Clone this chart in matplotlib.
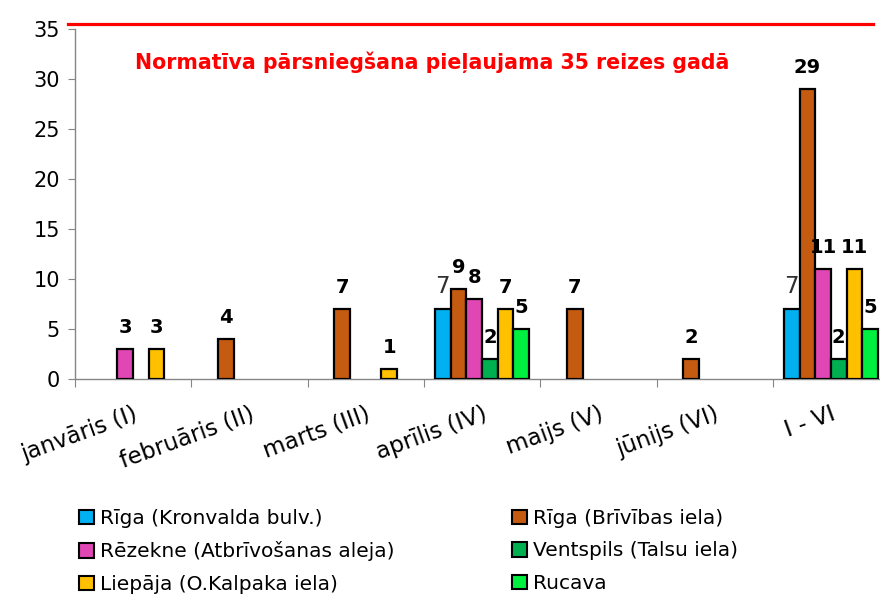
import matplotlib
matplotlib.use("Agg")
import matplotlib.pyplot as plt
import numpy as np
from matplotlib.patches import Patch

plt.rcParams['font.family'] = ['DejaVu Sans']

categories = ["janvāris (I)", "februāris (II)", "marts (III)", "aprīlis (IV)",
              "maijs (V)", "jūnijs (VI)", "I - VI"]
series_names = ["Rīga (Kronvalda bulv.)", "Rīga (Brīvības iela)",
                "Rēzekne (Atbrīvošanas aleja)", "Ventspils (Talsu iela)",
                "Liepāja (O.Kalpaka iela)", "Rucava"]
riga_kronvalda = [0, 0, 0, 7, 0, 0, 7]
riga_brivibas = [0, 4, 7, 9, 7, 2, 29]
rezekne = [3, 0, 0, 8, 0, 0, 11]
ventspils = [0, 0, 0, 2, 0, 0, 2]
liepaja = [3, 0, 1, 7, 0, 0, 11]
rucava = [0, 0, 0, 5, 0, 0, 5]
series_values = [riga_kronvalda, riga_brivibas, rezekne, ventspils, liepaja, rucava]
colors = ["#00B0F0", "#C55A11", "#E046B4", "#00B050", "#FFC000", "#00F040"]
limit_value = 35
limit_text = "Normatīva pārsniegšana pieļaujama 35 reizes gadā"
y_ticks = [0, 5, 10, 15, 20, 25, 30, 35]

fig = plt.figure(figsize=(8.8, 5.94), dpi=100)
ax = fig.add_axes([75/880, 1-379/594, 7*116.3/880, 350/594])

n = len(series_values)
w = 94/116.3/n
centers = np.arange(len(categories)) + 0.5
for j, (vals, col, name) in enumerate(zip(series_values, colors, series_names)):
    vals = np.array(vals, dtype=float)
    xs = centers + (j - (n-1)/2) * w
    mask = vals > 0
    ax.bar(xs[mask], vals[mask], width=w, color=col, edgecolor='black',
           linewidth=1.6, zorder=3)
    for x, v in zip(xs[mask], vals[mask]):
        if j == 0:
            ax.annotate(f"{int(v)}", (x, v), xytext=(0, 11.5), textcoords='offset points',
                        ha='center', va='baseline', fontsize=16.5, color='#303030')
        else:
            ax.annotate(f"{int(v)}", (x, v), xytext=(0, 11.5), textcoords='offset points',
                        ha='center', va='baseline', fontsize=14, fontweight='bold',
                        color='black')

ax.set_xlim(0, len(categories))
ax.set_ylim(0, 35)
ax.set_yticks(y_ticks)
ax.tick_params(axis='y', labelsize=15, length=5, color='#868686', pad=6)
ax.set_xticks(np.arange(len(categories)+1))
ax.set_xticklabels([])
ax.tick_params(axis='x', which='major', length=6, color='#868686')
ax.set_xticks(centers, categories, minor=True)
ax.tick_params(axis='x', which='minor', length=0, labelsize=16.5, pad=17)
for lab in ax.get_xticklabels(minor=True):
    lab.set_rotation(20)
    lab.set_ha('right')
    lab.set_rotation_mode('anchor')
for s in ['top', 'right']:
    ax.spines[s].set_visible(False)
for s in ['left', 'bottom']:
    ax.spines[s].set_color('#868686')
    ax.spines[s].set_linewidth(1)

ax.plot([-0.06, 6.86], [limit_value + 0.55] * 2, color='#FF0000', lw=2.3,
        clip_on=False, zorder=4)
ax.text(3.07, 31.7, limit_text, color='#FF0000', fontsize=14.8, fontweight='bold',
        ha='center', va='center')

handles = [Patch(facecolor=c, edgecolor='black', linewidth=1.5) for c in colors]
cols = [[0, 2, 4], [1, 3, 5]]
xs_leg = [79/880, 512/880]
for idx, xl in zip(cols, xs_leg):
    fig.legend([handles[i] for i in idx], [series_names[i] for i in idx],
               loc='upper left', bbox_to_anchor=(xl, 1-509/594), ncol=1,
               frameon=False, fontsize=14.5, handlelength=0.75, handleheight=0.75,
               handletextpad=0.3, labelspacing=0.67,
               borderaxespad=0, borderpad=0)

fig.savefig("out.png", dpi=100)
